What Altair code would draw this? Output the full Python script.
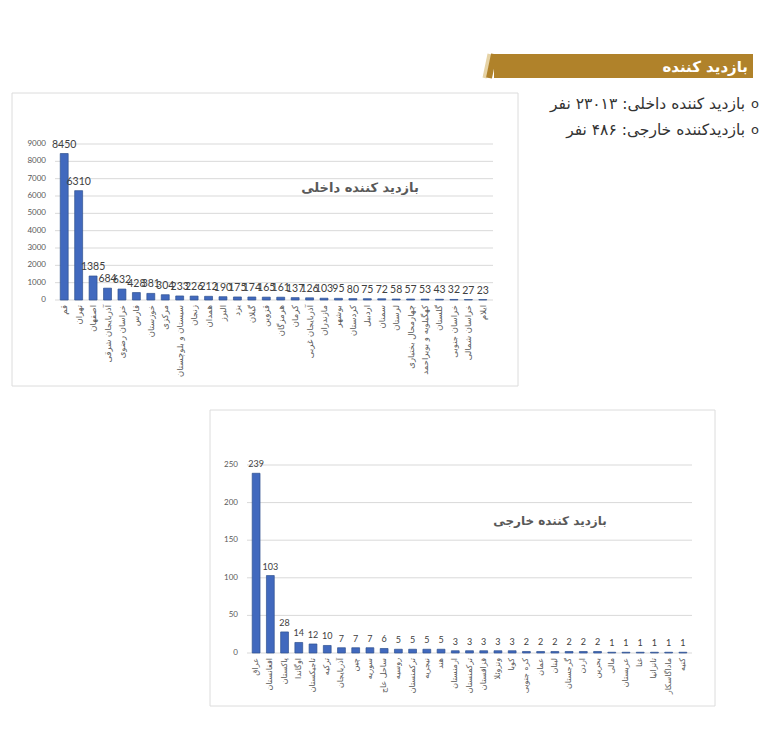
import altair as alt
import pandas as pd

# ---------------- data ----------------
dom_names = ["قم", "تهران", "اصفهان", "آذربایجان شرقی", "خراسان رضوی", "فارس", "خوزستان",
             "مرکزی", "سیستان و بلوچستان", "زنجان", "همدان", "البرز", "یزد", "گیلان", "قزوین",
             "هرمزگان", "کرمان", "آذربایجان غربی", "مازندران", "بوشهر", "کردستان", "اردبیل",
             "سمنان", "لرستان", "چهارمحال بختیاری", "کهگیلویه و بویراحمد", "گلستان",
             "خراسان جنوبی", "خراسان شمالی", "ایلام"]
dom_values = [8450, 6310, 1385, 684, 632, 428, 381, 304, 233, 226, 212, 190, 175, 174, 165,
              161, 137, 126, 103, 95, 80, 75, 72, 58, 57, 53, 43, 32, 27, 23]
dom_ticks = [0, 1000, 2000, 3000, 4000, 5000, 6000, 7000, 8000, 9000]

fore_names = ["عراق", "افغانستان", "پاکستان", "اوگاندا", "تاجیکستان", "ترکیه", "آذربایجان",
              "چین", "سوریه", "ساحل عاج", "روسیه", "ترکمنستان", "نیجریه", "هند", "ارمنستان",
              "ترکمنستان", "قزاقستان", "ونزوئلا", "کوبا", "کره جنوبی", "عمان", "لبنان",
              "گرجستان", "اردن", "بحرین", "مالی", "عربستان", "غنا", "تانزانیا", "ماداگاسکار", "کنیه"]
fore_values = [239, 103, 28, 14, 12, 10, 7, 7, 7, 6, 5, 5, 5, 5, 3, 3, 3, 3, 3,
               2, 2, 2, 2, 2, 2, 1, 1, 1, 1, 1, 1]
fore_ticks = [0, 50, 100, 150, 200, 250]

banner_text = "بازدید کننده"
bullet_lines = ["بازدید کننده داخلی: ۲۳۰۱۳ نفر", "بازدیدکننده خارجی: ۴۸۶ نفر"]
dom_title = "بازدید کننده داخلی"
fore_title = "بازدید کننده خارجی"

# ---------------- styling ----------------
PERSIAN = "DejaVu Sans"
NUM = "Lato"
BAR = "#4169BE"
BAR_EDGE = "#2F528F"
GRID = "#d9d9d9"
LABEL = "#595959"
GOLD = "#B0822A"

W, H = 752, 714


def P(v):
    """page pixel -> chart pixel (page has an 8px margin)"""
    return v - 8


one = pd.DataFrame({"k": [0]})
dom_df = pd.DataFrame({"idx": list(range(len(dom_names))), "name": dom_names, "value": dom_values})
fore_df = pd.DataFrame({"idx": list(range(len(fore_names))), "name": fore_names, "value": fore_values})
dom_tick_df = pd.DataFrame({"t": dom_ticks})
fore_tick_df = pd.DataFrame({"t": fore_ticks})


def panel(df, tick_df, x_rng, y_rng, y_dom, grid_x, ylab_x, xlab_y, title, title_xy,
          val_size, xlab_size, title_size):
    xs = alt.Scale(domain=list(range(len(df))), range=x_rng, paddingInner=0.45, paddingOuter=0.225)
    ys = alt.Scale(domain=y_dom, range=y_rng, nice=False)
    X = alt.X("idx:O", scale=xs, axis=None)
    grid = alt.Chart(tick_df).mark_rule(color=GRID, strokeWidth=1).encode(
        y=alt.Y("t:Q", scale=ys, axis=None), x=alt.value(grid_x[0]), x2=alt.value(grid_x[1]))
    ylab = alt.Chart(tick_df).mark_text(align="right", baseline="middle", fontSize=8,
                                        font=NUM, color=LABEL).encode(
        y=alt.Y("t:Q", scale=ys, axis=None), x=alt.value(ylab_x), text="t:Q")
    bars = alt.Chart(df).mark_bar(color=BAR, stroke=BAR_EDGE, strokeWidth=0.7).encode(
        x=X, y=alt.Y("value:Q", scale=ys, axis=None))
    vals = alt.Chart(df).mark_text(baseline="bottom", dy=-4, fontSize=val_size, font=NUM,
                                   color="#404040").encode(
        x=X, y=alt.Y("value:Q", scale=ys, axis=None), text="value:Q")
    xlab = alt.Chart(df).mark_text(angle=270, align="right", baseline="middle",
                                   fontSize=xlab_size, font=PERSIAN, color=LABEL).encode(
        x=X, y=alt.value(xlab_y), text="name:N")
    ttl = alt.Chart(one).mark_text(align="center", baseline="middle", fontSize=title_size,
                                   fontWeight="bold", font=PERSIAN, color=LABEL).encode(
        x=alt.value(title_xy[0]), y=alt.value(title_xy[1]), text=alt.value(title))
    return alt.layer(grid, ylab, bars, vals, xlab, ttl)


dom = panel(dom_df, dom_tick_df, [P(57), P(490)], [P(300), P(144)], [0, 9000],
            (P(55), P(493)), P(46), P(305), dom_title, (P(360), P(188)), 10.5, 8.5, 13)
fore = panel(fore_df, fore_tick_df, [P(249), P(690)], [P(653), P(465)], [0, 250],
             (P(247), P(692)), P(238), P(658), fore_title, (P(550), P(521)), 9, 8, 12)


def box(x0, x1, y0, y1):
    return alt.Chart(one).mark_rect(fill="white", stroke="#dcdcdc", strokeWidth=1).encode(
        x=alt.value(P(x0)), x2=alt.value(P(x1)), y=alt.value(P(y0)), y2=alt.value(P(y1)))


box_dom = box(12, 518, 93, 386)
box_fore = box(210, 715, 410, 706)

banner_rect = alt.Chart(one).mark_rect(color=GOLD).encode(
    x=alt.value(P(494)), x2=alt.value(P(753)), y=alt.value(P(54)), y2=alt.value(P(78)))
banner_slant = alt.Chart(one).mark_rule(color=GOLD, strokeWidth=6).encode(
    x=alt.value(P(494)), x2=alt.value(P(489)), y=alt.value(P(54)), y2=alt.value(P(78)))
banner_light = alt.Chart(one).mark_rule(color="#E6D3A6", strokeWidth=4).encode(
    x=alt.value(P(489.5)), x2=alt.value(P(484.5)), y=alt.value(P(54)), y2=alt.value(P(78)))
banner_label = alt.Chart(one).mark_text(align="right", baseline="middle", fontSize=15,
                                        fontWeight="bold", font=PERSIAN, color="white").encode(
    x=alt.value(P(748)), y=alt.value(P(67)), text=alt.value(banner_text))

bullets = []
for i, line in enumerate(bullet_lines):
    yy = P(104 + 26 * i)
    bullets.append(alt.Chart(one).mark_text(align="right", baseline="middle", fontSize=15.5,
                                            font=PERSIAN, color="#333333").encode(
        x=alt.value(P(745)), y=alt.value(yy), text=alt.value(line)))
    bullets.append(alt.Chart(one).mark_text(align="center", baseline="middle", fontSize=13,
                                            font=PERSIAN, color="#333333").encode(
        x=alt.value(P(755)), y=alt.value(yy), text=alt.value("o")))

chart = alt.layer(
    box_dom, box_fore, banner_light, banner_slant, banner_rect, banner_label, *bullets,
    dom, fore
).resolve_scale(x="independent", y="independent").properties(
    width=W, height=H, autosize=alt.AutoSizeParams(type="none"), padding=0
).configure_view(stroke=None)

chart.save("out.html", embed_options={"renderer": "svg", "actions": False})
